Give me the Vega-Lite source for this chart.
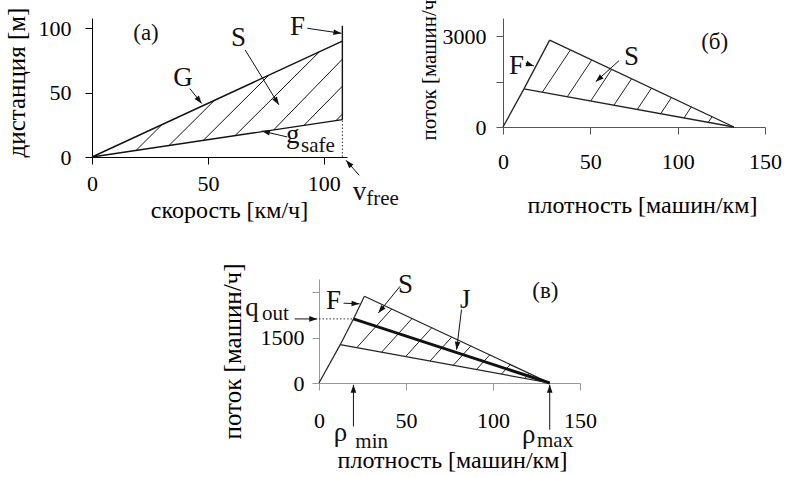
{
  "$schema": "https://vega.github.io/schema/vega-lite/v6.json",
  "autosize": {"type": "pad"},
  "padding": {"left": 4, "top": -8, "right": 0, "bottom": 0},
  "background": "white",
  "config": {
    "view": {"stroke": null},
    "font": "Liberation Serif",
    "axis": {"grid": false, "labelFont": "Liberation Serif", "titleFont": "Liberation Serif", "labelFontSize": 22, "titleFontSize": 24, "titleFontWeight": "normal", "labelColor": "black", "titleColor": "black", "tickSize": 7, "domainWidth": 1, "tickWidth": 1, "titleAlign": "center", "titleBaseline": "middle", "labelFlush": false, "labelOverlap": false},
    "axisY": {"titleFontSize": 25}
  },
  "bounds": "flush",
  "spacing": 261,
  "vconcat": [
    {
      "bounds": "flush",
      "spacing": 156,
      "hconcat": [
        {
          "width": 255, "height": 139,
          "data": {"values": [
            {"kind": "edge", "x": 0, "y": 0, "x2": 108, "y2": 90},
            {"kind": "edge", "x": 0, "y": 0, "x2": 108, "y2": 29},
            {"kind": "edge", "x": 108, "y": 29, "x2": 108, "y2": 102},
            {"kind": "dot", "x": 108, "y": 0, "x2": 108, "y2": 29},
            {"kind": "hatch", "x": 1.6, "y": 0.43, "x2": 2.5, "y2": 2.1},
            {"kind": "hatch", "x": 19, "y": 5.1, "x2": 30.2, "y2": 25.2},
            {"kind": "hatch", "x": 33.2, "y": 8.9, "x2": 52.8, "y2": 44},
            {"kind": "hatch", "x": 48, "y": 12.9, "x2": 76.3, "y2": 63.6},
            {"kind": "hatch", "x": 61.7, "y": 16.6, "x2": 98.1, "y2": 81.7},
            {"kind": "hatch", "x": 78.4, "y": 21.1, "x2": 108, "y2": 76},
            {"kind": "hatch", "x": 91.4, "y": 24.5, "x2": 108, "y2": 55},
            {"kind": "hatch", "x": 105.2, "y": 28.2, "x2": 108, "y2": 33.3},
            {"kind": "arrow", "x": 66.1, "y": 83.1, "x2": 80.6, "y2": 40.6},
            {"kind": "arrow", "x": 42.2, "y": 53.2, "x2": 47.3, "y2": 41.6},
            {"kind": "arrow", "x": 92.9, "y": 100, "x2": 107.6, "y2": 96.1},
            {"kind": "arrow", "x": 84.2, "y": 15.6, "x2": 73.3, "y2": 20.2},
            {"kind": "arrow", "x": 115.3, "y": -14.3, "x2": 109.6, "y2": -2.6},
            {"kind": "head", "x": 80.6, "y": 40.6, "ang": 58},
            {"kind": "head", "x": 47.3, "y": 41.6, "ang": 52},
            {"kind": "head", "x": 107.6, "y": 96.1, "ang": 8},
            {"kind": "head", "x": 73.3, "y": 20.2, "ang": 193},
            {"kind": "head", "x": 109.6, "y": -2.6, "ang": 229},
            {"kind": "label", "x": 23.3, "y": 96.1, "text": "(а)"},
            {"kind": "big", "x": 63.2, "y": 92.2, "text": "S"},
            {"kind": "big", "x": 39.3, "y": 61, "text": "G"},
            {"kind": "big", "x": 88.6, "y": 101.2, "text": "F"},
            {"kind": "sym", "x": 86.6, "y": 10.6, "text": "g"},
            {"kind": "sub", "x": 90.2, "y": 4.1, "text": "safe"},
            {"kind": "sym", "x": 115.4, "y": -33.4, "text": "v"},
            {"kind": "sub", "x": 118.3, "y": -37.3, "text": "free"}
          ]},
          "encoding": {
            "x": {"field": "x", "type": "quantitative", "scale": {"domain": [0, 110], "nice": false, "zero": false},
              "axis": {"values": [0, 50, 100], "labelPadding": 9, "domainColor": "black", "tickColor": "black", "title": "скорость [км/ч]", "titleX": 137, "titleY": 53}},
            "y": {"field": "y", "type": "quantitative", "scale": {"domain": [0, 108], "nice": false, "zero": false},
              "axis": {"values": [0, 50, 100], "labelPadding": 14, "domainColor": "black", "tickColor": "black", "title": "дистанция  [м]", "titleX": -76, "titleY": 64}}
          },
          "layer": [
            {"transform": [{"filter": "datum.kind == 'edge'"}], "mark": {"type": "rule", "color": "#111", "strokeWidth": 1.4}, "encoding": {"x2": {"field": "x2"}, "y2": {"field": "y2"}}},
            {"transform": [{"filter": "datum.kind == 'hatch'"}], "mark": {"type": "rule", "color": "#111", "strokeWidth": 1}, "encoding": {"x2": {"field": "x2"}, "y2": {"field": "y2"}}},
            {"transform": [{"filter": "datum.kind == 'dot'"}], "mark": {"type": "rule", "color": "#333", "strokeWidth": 1, "strokeDash": [1.5, 2]}, "encoding": {"x2": {"field": "x2"}, "y2": {"field": "y2"}}},
            {"transform": [{"filter": "datum.kind == 'arrow'"}], "mark": {"type": "rule", "color": "#111", "strokeWidth": 1}, "encoding": {"x2": {"field": "x2"}, "y2": {"field": "y2"}}},
            {"transform": [{"filter": "datum.kind == 'head'"}], "mark": {"type": "point", "shape": "M0,0L-2,-0.7L-2,0.7Z", "filled": true, "size": 64, "color": "#111", "opacity": 1, "strokeWidth": 0}, "encoding": {"angle": {"field": "ang", "type": "quantitative", "scale": null}}},
            {"transform": [{"filter": "datum.kind == 'label'"}], "mark": {"type": "text", "font": "Liberation Serif", "fontSize": 23, "color": "#111", "baseline": "middle", "align": "center"}, "encoding": {"text": {"field": "text"}}},
            {"transform": [{"filter": "datum.kind == 'big'"}], "mark": {"type": "text", "font": "Liberation Serif", "fontSize": 27, "color": "#111", "baseline": "middle", "align": "center"}, "encoding": {"text": {"field": "text"}}},
            {"transform": [{"filter": "datum.kind == 'sym'"}], "mark": {"type": "text", "font": "Liberation Serif", "fontSize": 27, "color": "#111", "baseline": "alphabetic", "align": "center"}, "encoding": {"text": {"field": "text"}}},
            {"transform": [{"filter": "datum.kind == 'sub'"}], "mark": {"type": "text", "font": "Liberation Serif", "fontSize": 21, "color": "#111", "baseline": "alphabetic", "align": "left"}, "encoding": {"text": {"field": "text"}}}
          ]
        },
        {
          "width": 262, "height": 109,
          "data": {"values": [
            {"kind": "edge", "x": 0, "y": 0, "x2": 12, "y2": 1258},
            {"kind": "edge", "x": 12, "y": 1258, "x2": 26.7, "y2": 2868},
            {"kind": "edge", "x": 26.7, "y": 2868, "x2": 132.2, "y2": 0},
            {"kind": "edge", "x": 12, "y": 1258, "x2": 132.2, "y2": 0},
            {"kind": "hatch", "x": 22.5, "y": 1148, "x2": 38.6, "y2": 2544},
            {"kind": "hatch", "x": 36.8, "y": 998, "x2": 50.8, "y2": 2213},
            {"kind": "hatch", "x": 50.2, "y": 858, "x2": 62.2, "y2": 1903},
            {"kind": "hatch", "x": 63.5, "y": 719, "x2": 73.6, "y2": 1593},
            {"kind": "hatch", "x": 76.9, "y": 579, "x2": 85, "y2": 1283},
            {"kind": "hatch", "x": 90.3, "y": 439, "x2": 96.4, "y2": 973},
            {"kind": "hatch", "x": 103.6, "y": 299, "x2": 107.8, "y2": 663},
            {"kind": "hatch", "x": 117.5, "y": 154, "x2": 119.7, "y2": 340},
            {"kind": "arrow", "x": 66.4, "y": 2190, "x2": 53.1, "y2": 1496},
            {"kind": "arrow", "x": 13, "y": 2104, "x2": 17.7, "y2": 2015},
            {"kind": "head", "x": 53.1, "y": 1496, "ang": 138},
            {"kind": "head", "x": 17.7, "y": 2015, "ang": 18},
            {"kind": "label", "x": 121.2, "y": 2817, "text": "(б)"},
            {"kind": "big", "x": 73.6, "y": 2322, "text": "S"},
            {"kind": "big", "x": 7.7, "y": 2020, "text": "F"}
          ]},
          "encoding": {
            "x": {"field": "x", "type": "quantitative", "scale": {"domain": [0, 150], "nice": false, "zero": false},
              "axis": {"values": [0, 50, 100, 150], "labelPadding": 17, "domainColor": "#555", "tickColor": "#555", "title": "плотность [машин/км]", "titleX": 139, "titleY": 78}},
            "y": {"field": "y", "type": "quantitative", "scale": {"domain": [0, 3600], "nice": false, "zero": false},
              "axis": {"values": [0, 1500, 3000], "format": "d", "labelExpr": "datum.value == 1500 ? '' : datum.label", "labelPadding": 10, "domainColor": "#555", "tickColor": "#555", "title": "поток [машин/ч]", "titleFontSize": 21, "titleX": -74, "titleY": 48}}
          },
          "layer": [
            {"transform": [{"filter": "datum.kind == 'edge'"}], "mark": {"type": "rule", "color": "#222", "strokeWidth": 1.3}, "encoding": {"x2": {"field": "x2"}, "y2": {"field": "y2"}}},
            {"transform": [{"filter": "datum.kind == 'hatch'"}], "mark": {"type": "rule", "color": "#222", "strokeWidth": 1}, "encoding": {"x2": {"field": "x2"}, "y2": {"field": "y2"}}},
            {"transform": [{"filter": "datum.kind == 'arrow'"}], "mark": {"type": "rule", "color": "#111", "strokeWidth": 1}, "encoding": {"x2": {"field": "x2"}, "y2": {"field": "y2"}}},
            {"transform": [{"filter": "datum.kind == 'head'"}], "mark": {"type": "point", "shape": "M0,0L-2,-0.7L-2,0.7Z", "filled": true, "size": 64, "color": "#111", "opacity": 1, "strokeWidth": 0}, "encoding": {"angle": {"field": "ang", "type": "quantitative", "scale": null}}},
            {"transform": [{"filter": "datum.kind == 'label'"}], "mark": {"type": "text", "font": "Liberation Serif", "fontSize": 23, "color": "#111", "baseline": "middle", "align": "center"}, "encoding": {"text": {"field": "text"}}},
            {"transform": [{"filter": "datum.kind == 'big'"}], "mark": {"type": "text", "font": "Liberation Serif", "fontSize": 27, "color": "#111", "baseline": "middle", "align": "center"}, "encoding": {"text": {"field": "text"}}}
          ]
        }
      ]
    },
    {
      "bounds": "flush",
      "spacing": 226,
      "hconcat": [
        {"width": 1, "height": 1, "data": {"values": [{"k": 0}]}, "mark": {"type": "point", "opacity": 0}, "encoding": {}},
        {
          "width": 261, "height": 104,
          "data": {"values": [
            {"kind": "edge", "x": 0, "y": 0, "x2": 12.2, "y2": 1268},
            {"kind": "edge", "x": 12.2, "y": 1268, "x2": 19.8, "y2": 2120},
            {"kind": "edge", "x": 19.8, "y": 2120, "x2": 26.1, "y2": 2868},
            {"kind": "edge", "x": 26.1, "y": 2868, "x2": 132.6, "y2": 0},
            {"kind": "edge", "x": 12.2, "y": 1268, "x2": 132.6, "y2": 0},
            {"kind": "jam", "x": 19.8, "y": 2120, "x2": 132.6, "y2": 0},
            {"kind": "dot", "x": 0, "y": 2120, "x2": 19.8, "y2": 2120},
            {"kind": "hatch", "x": 21.7, "y": 1168, "x2": 41.8, "y2": 2447},
            {"kind": "hatch", "x": 36, "y": 1018, "x2": 53.5, "y2": 2133},
            {"kind": "hatch", "x": 49.8, "y": 873, "x2": 64.8, "y2": 1830},
            {"kind": "hatch", "x": 63.8, "y": 726, "x2": 76.3, "y2": 1521},
            {"kind": "hatch", "x": 77.2, "y": 586, "x2": 87.3, "y2": 1226},
            {"kind": "hatch", "x": 90.5, "y": 446, "x2": 98.2, "y2": 934},
            {"kind": "hatch", "x": 104.9, "y": 295, "x2": 110, "y2": 617},
            {"kind": "hatch", "x": 118.3, "y": 154, "x2": 121, "y2": 322},
            {"kind": "arrow", "x": 46.6, "y": 3199, "x2": 34.1, "y2": 2318},
            {"kind": "arrow", "x": 14.1, "y": 2640, "x2": 23.3, "y2": 2620},
            {"kind": "arrow", "x": 81.9, "y": 2427, "x2": 79.1, "y2": 1100},
            {"kind": "arrow", "x": -14, "y": 2120, "x2": -1, "y2": 2120},
            {"kind": "arrow", "x": 19.8, "y": -1436, "x2": 19.8, "y2": -60},
            {"kind": "arrow", "x": 132.6, "y": -1545, "x2": 132.6, "y2": -60},
            {"kind": "head", "x": 34.1, "y": 2318, "ang": 129},
            {"kind": "head", "x": 23.3, "y": 2620, "ang": 2},
            {"kind": "head", "x": 79.1, "y": 1100, "ang": 97},
            {"kind": "head", "x": -1, "y": 2120, "ang": 0},
            {"kind": "head", "x": 19.8, "y": -60, "ang": 270},
            {"kind": "head", "x": 132.6, "y": -60, "ang": 270},
            {"kind": "label", "x": 130.1, "y": 3030, "text": "(в)"},
            {"kind": "big", "x": 49.7, "y": 3252, "text": "S"},
            {"kind": "big", "x": 8.4, "y": 2700, "text": "F"},
            {"kind": "big", "x": 84.1, "y": 2756, "text": "J"},
            {"kind": "sym", "x": -38.5, "y": 2200, "text": "q"},
            {"kind": "sub", "x": -32.8, "y": 2094, "text": "out"},
            {"kind": "sym", "x": 12.3, "y": -1932, "text": "ρ"},
            {"kind": "sub", "x": 20.9, "y": -2150, "text": "min"},
            {"kind": "sym", "x": 120.5, "y": -1985, "text": "ρ"},
            {"kind": "sub", "x": 125.3, "y": -2117, "text": "max"}
          ]},
          "encoding": {
            "x": {"field": "x", "type": "quantitative", "scale": {"domain": [0, 150], "nice": false, "zero": false},
              "axis": {"values": [0, 50, 100, 150], "labelPadding": 20, "domainColor": "#999", "tickColor": "#999", "title": "плотность [машин/км]", "titleX": 133, "titleY": 77}},
            "y": {"field": "y", "type": "quantitative", "scale": {"domain": [0, 3440], "nice": false, "zero": false},
              "axis": {"values": [0, 1500, 3000], "format": "d", "labelExpr": "datum.value == 3000 ? '' : datum.label", "labelPadding": 8, "domainColor": "#999", "tickColor": "#999", "title": "поток [машин/ч]", "titleX": -87, "titleY": 72}}
          },
          "layer": [
            {"transform": [{"filter": "datum.kind == 'edge'"}], "mark": {"type": "rule", "color": "#222", "strokeWidth": 1.2}, "encoding": {"x2": {"field": "x2"}, "y2": {"field": "y2"}}},
            {"transform": [{"filter": "datum.kind == 'hatch'"}], "mark": {"type": "rule", "color": "#222", "strokeWidth": 1}, "encoding": {"x2": {"field": "x2"}, "y2": {"field": "y2"}}},
            {"transform": [{"filter": "datum.kind == 'jam'"}], "mark": {"type": "rule", "color": "#111", "strokeWidth": 3}, "encoding": {"x2": {"field": "x2"}, "y2": {"field": "y2"}}},
            {"transform": [{"filter": "datum.kind == 'dot'"}], "mark": {"type": "rule", "color": "#333", "strokeWidth": 1, "strokeDash": [1.5, 2]}, "encoding": {"x2": {"field": "x2"}, "y2": {"field": "y2"}}},
            {"transform": [{"filter": "datum.kind == 'arrow'"}], "mark": {"type": "rule", "color": "#111", "strokeWidth": 1}, "encoding": {"x2": {"field": "x2"}, "y2": {"field": "y2"}}},
            {"transform": [{"filter": "datum.kind == 'head'"}], "mark": {"type": "point", "shape": "M0,0L-2,-0.7L-2,0.7Z", "filled": true, "size": 64, "color": "#111", "opacity": 1, "strokeWidth": 0}, "encoding": {"angle": {"field": "ang", "type": "quantitative", "scale": null}}},
            {"transform": [{"filter": "datum.kind == 'label'"}], "mark": {"type": "text", "font": "Liberation Serif", "fontSize": 23, "color": "#111", "baseline": "middle", "align": "center"}, "encoding": {"text": {"field": "text"}}},
            {"transform": [{"filter": "datum.kind == 'big'"}], "mark": {"type": "text", "font": "Liberation Serif", "fontSize": 27, "color": "#111", "baseline": "middle", "align": "center"}, "encoding": {"text": {"field": "text"}}},
            {"transform": [{"filter": "datum.kind == 'sym'"}], "mark": {"type": "text", "font": "Liberation Serif", "fontSize": 27, "color": "#111", "baseline": "alphabetic", "align": "center"}, "encoding": {"text": {"field": "text"}}},
            {"transform": [{"filter": "datum.kind == 'sub'"}], "mark": {"type": "text", "font": "Liberation Serif", "fontSize": 21, "color": "#111", "baseline": "alphabetic", "align": "left"}, "encoding": {"text": {"field": "text"}}}
          ]
        }
      ]
    }
  ]
}
